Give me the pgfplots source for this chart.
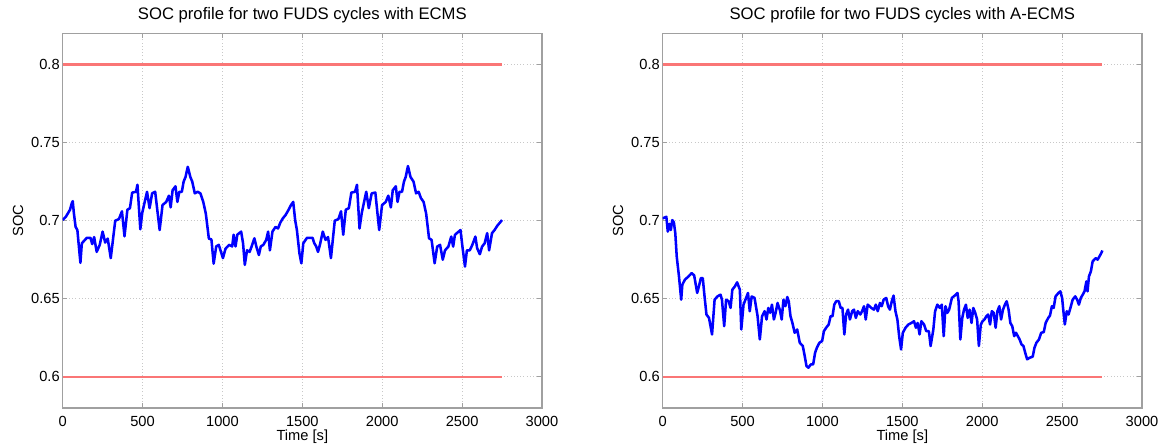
\documentclass[border=0pt]{standalone}
\usepackage{fontspec}
\setmainfont{Liberation Sans}
\usepackage{pgfplots}
\usepackage{pgfplotstable}
\pgfplotsset{compat=1.18}

\definecolor{socblue}{RGB}{0,0,255}
\definecolor{limred}{RGB}{250,118,118}
\definecolor{framegray}{RGB}{160,160,160}
\definecolor{gridgray}{RGB}{200,200,200}

% SOC trace, conventional ECMS
\pgfplotstableread{
t soc
0 0.7004
20 0.7025
46 0.7070
58 0.7115
63 0.7125
70 0.7050
81 0.6960
92 0.6940
111 0.6730
120 0.6855
151 0.6890
174 0.6890
185 0.6850
197 0.6895
213 0.6800
232 0.6845
250 0.6930
266 0.6860
282 0.6885
301 0.6760
329 0.7000
352 0.7010
371 0.7060
387 0.6900
405 0.7070
421 0.7080
435 0.7180
459 0.7185
468 0.7230
486 0.6945
498 0.7050
528 0.7185
544 0.7080
560 0.7175
579 0.7185
607 0.6940
625 0.7100
648 0.7120
665 0.7160
676 0.7085
688 0.7195
706 0.7220
718 0.7120
730 0.7185
746 0.7185
757 0.7250
769 0.7280
783 0.7345
799 0.7280
811 0.7250
827 0.7175
845 0.7185
862 0.7175
880 0.7120
896 0.7045
915 0.6885
931 0.6880
945 0.6725
961 0.6835
977 0.6845
991 0.6800
1003 0.6760
1019 0.6820
1042 0.6845
1061 0.6835
1070 0.6910
1082 0.6835
1093 0.6910
1105 0.6920
1117 0.6930
1129 0.6855
1140 0.6717
1154 0.6810
1170 0.6800
1181 0.6830
1200 0.6887
1212 0.6835
1228 0.6780
1240 0.6835
1256 0.6845
1274 0.6877
1286 0.6930
1297 0.6810
1313 0.6930
1332 0.6960
1348 0.6950
1362 0.6987
1378 0.7015
1395 0.7036
1413 0.7068
1429 0.7100
1443 0.7120
1455 0.7004
1466 0.6940
1482 0.6790
1494 0.6727
1506 0.6855
1529 0.6890
1564 0.6890
1575 0.6855
1587 0.6835
1598 0.6800
1610 0.6845
1628 0.6930
1645 0.6877
1661 0.6895
1679 0.6760
1703 0.7000
1726 0.7010
1742 0.7060
1756 0.6910
1772 0.7070
1791 0.7080
1807 0.7180
1830 0.7185
1842 0.7230
1858 0.6950
1872 0.7050
1900 0.7185
1916 0.7080
1934 0.7175
1957 0.7180
1981 0.6940
1999 0.7100
2022 0.7120
2038 0.7160
2054 0.7085
2066 0.7195
2085 0.7220
2096 0.7120
2108 0.7185
2124 0.7185
2136 0.7250
2147 0.7280
2161 0.7350
2177 0.7280
2196 0.7250
2212 0.7175
2228 0.7185
2242 0.7145
2259 0.7120
2275 0.7045
2293 0.6887
2309 0.6877
2328 0.6727
2344 0.6834
2362 0.6845
2379 0.6750
2393 0.6810
2414 0.6834
2432 0.6898
2444 0.6834
2455 0.6909
2467 0.6920
2490 0.6940
2502 0.6834
2518 0.6706
2530 0.6810
2548 0.6810
2564 0.6845
2583 0.6898
2594 0.6824
2611 0.6785
2625 0.6834
2641 0.6855
2657 0.6920
2669 0.6810
2687 0.6920
2703 0.6940
2722 0.6970
2733 0.6983
2750 0.7004
}\ecmsdata

% SOC trace, adaptive ECMS
\pgfplotstableread{
t soc
0 0.7015
12 0.7020
23 0.7025
32 0.6930
42 0.6980
51 0.6940
60 0.7004
70 0.6990
79 0.6920
88 0.6770
102 0.6643
111 0.6547
116 0.6494
123 0.6590
139 0.6622
162 0.6643
181 0.6664
197 0.6650
216 0.6537
227 0.6580
239 0.6632
251 0.6632
262 0.6515
274 0.6399
290 0.6377
309 0.6271
325 0.6494
343 0.6515
362 0.6526
371 0.6494
385 0.6324
397 0.6494
413 0.6484
425 0.6441
436 0.6558
452 0.6579
466 0.6605
483 0.6558
492 0.6303
506 0.6462
522 0.6505
534 0.6537
545 0.6420
557 0.6515
575 0.6505
594 0.6388
608 0.6239
622 0.6388
638 0.6420
650 0.6367
661 0.6441
673 0.6410
684 0.6462
696 0.6367
707 0.6410
719 0.6473
733 0.6430
745 0.6367
756 0.6494
768 0.6452
780 0.6511
789 0.6484
800 0.6388
812 0.6345
826 0.6282
842 0.6303
858 0.6218
877 0.6197
889 0.6133
900 0.6069
912 0.6058
928 0.6080
942 0.6080
954 0.6154
965 0.6186
981 0.6218
998 0.6229
1009 0.6292
1023 0.6314
1039 0.6335
1051 0.6388
1063 0.6388
1074 0.6462
1086 0.6484
1102 0.6484
1114 0.6441
1125 0.6441
1137 0.6271
1148 0.6399
1160 0.6430
1172 0.6367
1186 0.6420
1197 0.6430
1209 0.6377
1221 0.6420
1237 0.6399
1248 0.6420
1260 0.6452
1271 0.6367
1283 0.6462
1295 0.6452
1306 0.6441
1322 0.6430
1334 0.6462
1346 0.6420
1360 0.6473
1371 0.6452
1383 0.6494
1399 0.6505
1411 0.6452
1422 0.6430
1434 0.6484
1445 0.6520
1457 0.6420
1469 0.6367
1480 0.6260
1492 0.6175
1503 0.6282
1520 0.6314
1538 0.6335
1557 0.6345
1573 0.6356
1585 0.6314
1596 0.6345
1608 0.6271
1619 0.6356
1636 0.6335
1650 0.6292
1666 0.6292
1677 0.6197
1694 0.6303
1705 0.6420
1719 0.6462
1735 0.6441
1747 0.6462
1759 0.6260
1770 0.6452
1782 0.6410
1793 0.6430
1810 0.6505
1828 0.6520
1845 0.6537
1852 0.6484
1863 0.6239
1875 0.6377
1886 0.6430
1898 0.6462
1909 0.6377
1921 0.6430
1933 0.6345
1944 0.6441
1956 0.6410
1968 0.6367
1979 0.6197
1991 0.6335
2002 0.6356
2014 0.6367
2026 0.6388
2037 0.6399
2049 0.6335
2060 0.6420
2072 0.6410
2084 0.6314
2095 0.6420
2107 0.6452
2118 0.6367
2130 0.6430
2142 0.6462
2153 0.6484
2165 0.6430
2176 0.6345
2188 0.6324
2200 0.6260
2211 0.6282
2223 0.6260
2234 0.6239
2246 0.6207
2258 0.6197
2269 0.6154
2281 0.6112
2297 0.6122
2316 0.6129
2327 0.6186
2339 0.6218
2355 0.6239
2369 0.6282
2385 0.6286
2397 0.6345
2413 0.6377
2424 0.6392
2436 0.6452
2447 0.6441
2459 0.6515
2477 0.6537
2489 0.6547
2500 0.6505
2508 0.6420
2517 0.6335
2529 0.6420
2540 0.6399
2552 0.6441
2566 0.6494
2582 0.6515
2594 0.6494
2605 0.6462
2617 0.6505
2629 0.6526
2640 0.6547
2652 0.6611
2659 0.6547
2668 0.6643
2680 0.6675
2691 0.6739
2710 0.6760
2722 0.6750
2733 0.6770
2745 0.6792
2752 0.6809
}\aecmsdata

\pgfplotsset{
  socaxis/.style={
    scale only axis,
    width=359.5pt, height=281pt,
    anchor=south west,
    xmin=0, xmax=3000, ymin=0.58, ymax=0.82,
    xtick={0,500,...,3000},
    ytick={0.6,0.65,0.7,0.75,0.8},
    grid=major,
    major grid style={gridgray, dotted, line width=0.5pt},
    axis line style={framegray, line width=0.9pt},
    tick style={framegray, line width=0.8pt},
    tick align=inside,
    major tick length=3.5pt,
    /pgf/number format/assume math mode=true,
    xticklabel style={font=\fontsize{11}{13}\selectfont,
      /pgf/number format/1000 sep={}, anchor=center, yshift=-9.75pt},
    yticklabel style={font=\fontsize{11}{13}\selectfont,
      /pgf/number format/fixed, /pgf/number format/precision=2,
      anchor=east, inner sep=0pt, xshift=-2pt},
    xlabel={Time [s]},
    ylabel={SOC},
    label style={font=\fontsize{11}{13}\selectfont},
    xlabel style={at={(axis description cs:0.5,-0.0774)}, anchor=center},
    ylabel style={at={(axis description cs:-0.0932,0.5)}, anchor=center},
    title style={at={(axis description cs:0.5,1.016)}, anchor=base,
      font=\fontsize{12.5}{14}\selectfont},
  },
  socline/.style={socblue, line width=1.9pt, line join=round},
  limline/.style={limred, line width=1.8pt},
}

\begin{document}
\begin{tikzpicture}
\path[use as bounding box] (0,0) rectangle (871.5pt,335.25pt);

\begin{axis}[socaxis, at={(47pt,29.25pt)},
  title={SOC profile for two FUDS cycles with ECMS}]
  \addplot[limline] coordinates {(0,0.8) (2750,0.8)};
  \addplot[limline] coordinates {(0,0.6) (2750,0.6)};
  \addplot[socline] table[x=t, y=soc] {\ecmsdata};
\end{axis}

\begin{axis}[socaxis, at={(497pt,29.25pt)},
  title={SOC profile for two FUDS cycles with A-ECMS}]
  \addplot[limline] coordinates {(0,0.8) (2750,0.8)};
  \addplot[limline] coordinates {(0,0.6) (2750,0.6)};
  \addplot[socline] table[x=t, y=soc] {\aecmsdata};
\end{axis}
\end{tikzpicture}
\end{document}
